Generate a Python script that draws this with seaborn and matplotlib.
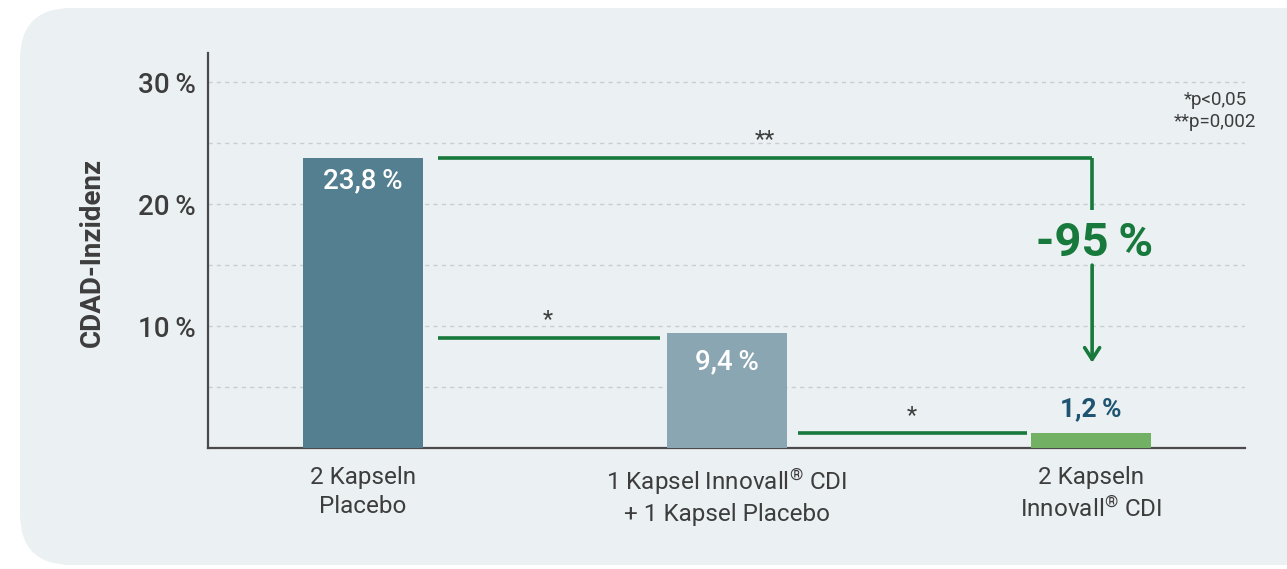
import matplotlib
matplotlib.use("Agg")
import matplotlib.pyplot as plt
from matplotlib.patches import FancyBboxPatch
import pandas as pd
import seaborn as sns

# data
groups = ["2 Kapseln\nPlacebo",
          "1 Kapsel Innovall$^{®}$ CDI\n+ 1 Kapsel Placebo",
          "2 Kapseln\nInnovall$^{®}$ CDI"]
incidence = [23.8, 9.4, 1.2]
value_labels = ["23,8\u2009%", "9,4\u2009%", "1,2\u2009%"]
bar_colors = ["#537f91", "#8ba6b3", "#72b163"]
ytick_vals = [10, 20, 30]
ytick_labels = ["10\u2009%", "20\u2009%", "30\u2009%"]
grid_vals = [5, 10, 15, 20, 25, 30]
reduction_label = "-95\u2009%"
sig_note = "*p<0,05\n**p=0,002"

df = pd.DataFrame({"group": groups, "incidence": incidence})

green = "#17793c"
text_col = "#3d3d3d"
panel_col = "#ebf0f3"

sns.set_theme(style="white")
plt.rcParams["font.family"] = ["Roboto", "DejaVu Sans"]
plt.rcParams["mathtext.fontset"] = "custom"
plt.rcParams["mathtext.rm"] = "Roboto"
plt.rcParams["mathtext.it"] = "Roboto"
plt.rcParams["mathtext.default"] = "rm"

fig = plt.figure(figsize=(12.87, 5.69), dpi=100)
fig.patch.set_facecolor("white")

# rounded light panel behind everything
panel = FancyBboxPatch((20 / 1287, 1 - 565 / 569), 1.2, (565 - 8) / 569,
                       boxstyle="round,pad=0,rounding_size=0.04",
                       transform=fig.transFigure, facecolor=panel_col,
                       edgecolor="none", zorder=-10, mutation_aspect=1287 / 569)
fig.patches.append(panel)

ax = fig.add_axes([208 / 1287, 1 - 448 / 569, (1245 - 208) / 1287, (448 - 53) / 569])
ax.set_facecolor("none")

sns.barplot(data=df, x="group", y="incidence", hue="group", palette=bar_colors,
            width=0.33, legend=False, ax=ax, saturation=1, linewidth=0, zorder=3)

ax.set_xlim(-0.426, 2.423)
ax.set_ylim(0, 32.4)

for g in grid_vals:
    ax.axhline(g, color="#c9cdd1", lw=1, ls=(0, (3, 3)), zorder=1)

ax.set_yticks(ytick_vals)
ax.set_yticklabels(ytick_labels, fontsize=20, color=text_col, fontweight="medium")
ax.tick_params(axis="y", length=0, pad=9)
ax.tick_params(axis="x", length=0, pad=13, labelsize=17.5, labelcolor=text_col)
for lbl in ax.get_xticklabels():
    lbl.set_linespacing(1.35)
ax.set_xlabel("")
ax.set_ylabel("")

for side in ["top", "right"]:
    ax.spines[side].set_visible(False)
for side in ["left", "bottom"]:
    ax.spines[side].set_color("#4a4a4a")
    ax.spines[side].set_linewidth(1.6)

fig.text(92 / 1287, 1 - 252 / 569, "CDAD-Inzidenz", rotation=90, ha="center",
         va="center", fontsize=20, fontweight="bold", color=text_col)

# value labels
ax.text(0, incidence[0] - 1.9, value_labels[0], ha="center", va="center",
        fontsize=20, color="white", fontweight="medium", zorder=5)
ax.text(1, incidence[1] - 2.3, value_labels[1], ha="center", va="center",
        fontsize=20, color="white", fontweight="medium", zorder=5)
ax.text(2, incidence[2] + 2.0, value_labels[2], ha="center", va="center",
        fontsize=19, color="#1e5470", fontweight="bold", zorder=5)

# significance lines
lw = 2.6
ax.plot([0.206, 2.003], [incidence[0], incidence[0]], color=green, lw=lw,
        solid_capstyle="butt", zorder=4)
ax.plot([2.003, 2.003], [incidence[0], 19.5], color=green, lw=lw,
        solid_capstyle="butt", zorder=4)
ax.annotate("", xy=(2.003, 7.0), xytext=(2.003, 15.0),
            arrowprops=dict(arrowstyle="->,head_length=0.7,head_width=0.45",
                            color=green, lw=lw, shrinkA=0, shrinkB=0), zorder=4)
ax.text(2.01, 16.8, reduction_label, ha="center", va="center", fontsize=34,
        fontweight="bold", color=green, zorder=5)
ax.text(1.104, 25.3, "**", ha="center", va="center", fontsize=17, color=text_col)

ax.plot([0.206, 0.816], [incidence[1] - 0.4, incidence[1] - 0.4], color=green,
        lw=lw, solid_capstyle="butt", zorder=4)
ax.text(0.508, 10.5, "*", ha="center", va="center", fontsize=17, color=text_col)

ax.plot([1.195, 1.824], [incidence[2], incidence[2]], color=green, lw=lw,
        solid_capstyle="butt", zorder=4)
ax.text(1.508, 2.7, "*", ha="center", va="center", fontsize=17, color=text_col)

fig.text(1215 / 1287, 1 - 111 / 569, sig_note, ha="center", va="center",
         fontsize=13.5, color=text_col, linespacing=1.25)

fig.savefig("out.png", dpi=100)
